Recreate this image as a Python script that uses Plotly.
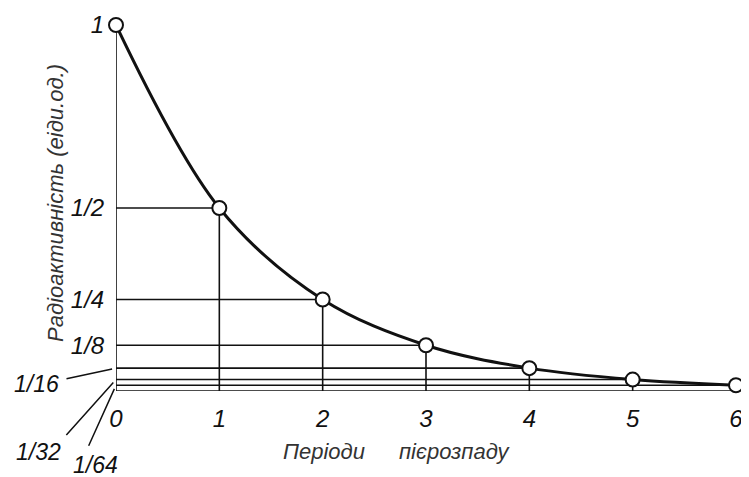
import plotly.graph_objects as go

# ---- data ----
periods = [0, 1, 2, 3, 4, 5, 6]
activity = [1, 1/2, 1/4, 1/8, 1/16, 1/32, 1/64]
x_tick_labels = ["0", "1", "2", "3", "4", "5", "6"]
y_tick_values = [1, 1/2, 1/4, 1/8]
y_tick_labels = ["1", "1/2", "1/4", "1/8"]
small_values = [1/16, 1/32, 1/64]
small_labels = ["1/16", "1/32", "1/64"]
x_title_words = ["Періоди", "пієрозпаду"]
y_title = "Радіоактивність (еіди.од.)"

FONT = "Liberation Sans, Arial, sans-serif"
INK = "#111111"

# guide lines built from the data: horizontal to the y axis, vertical to the baseline
gx, gy = [], []
for xv, yv in zip(periods[1:], activity[1:]):
    gx += [periods[0], xv, None, xv, xv, None]
    gy += [yv, yv, None, yv, 0, None]
# y axis and baseline
gx += [periods[0], periods[0], None, periods[0], periods[-1], None]
gy += [activity[0], 0, None, 0, 0, None]

fig = go.Figure()
fig.add_trace(go.Scatter(x=gx, y=gy, mode="lines",
                         line=dict(color=INK, width=1.6),
                         hoverinfo="skip", showlegend=False, cliponaxis=False))
fig.add_trace(go.Scatter(x=periods, y=activity, mode="lines+markers",
                         line=dict(color=INK, width=3, shape="spline", smoothing=1.0),
                         marker=dict(size=14, color="white", line=dict(color=INK, width=2)),
                         showlegend=False, cliponaxis=False))

# leader lines and labels for the small fractions
leader_offsets = [(-51, 11), (-51, 57), (-28, 62)]
label_shifts = [(-80, -16), (-78, -72), (-21, -80)]
for val, lab, (ax, ay), (xs, ys) in zip(small_values, small_labels, leader_offsets, label_shifts):
    fig.add_annotation(x=0, y=val, xref="x", yref="y", text="", showarrow=True,
                       ax=ax, ay=ay, arrowhead=0, arrowwidth=1.5, arrowcolor=INK, standoff=4)
    fig.add_annotation(x=0, y=val, xref="x", yref="y", text=lab, showarrow=False,
                       xshift=xs, yshift=ys,
                       font=dict(family=FONT, size=23, color=INK, style="italic"))

# axis titles
for word, xpos in zip(x_title_words, [2.01, 3.28]):
    fig.add_annotation(x=xpos, y=0, xref="x", yref="y", text=word, showarrow=False,
                       yshift=-60, font=dict(family=FONT, size=22, color="#333333", style="italic"))
fig.add_annotation(x=0, y=0.514, xref="x", yref="y", text=y_title, showarrow=False,
                   textangle=-90, xshift=-60,
                   font=dict(family=FONT, size=22, color="#333333", style="italic"))

# the page body adds an 8px offset, so the figure is sized to fit inside the window
fig.update_layout(
    width=741, height=469,
    margin=dict(l=108, r=13, t=17, b=86),
    paper_bgcolor="white", plot_bgcolor="white",
    xaxis=dict(range=[0, 6], tickvals=periods, ticktext=x_tick_labels,
               showgrid=False, zeroline=False, showline=False, automargin=False,
               ticks="outside", ticklen=6, tickcolor="rgba(0,0,0,0)",
               tickfont=dict(family=FONT, size=24, color=INK, style="italic")),
    yaxis=dict(range=[0, 1], tickvals=y_tick_values, ticktext=y_tick_labels,
               showgrid=False, zeroline=False, showline=False, automargin=False,
               ticks="outside", ticklen=6, tickcolor="rgba(0,0,0,0)",
               tickfont=dict(family=FONT, size=24, color=INK, style="italic")),
)

fig.write_html("out.html")
